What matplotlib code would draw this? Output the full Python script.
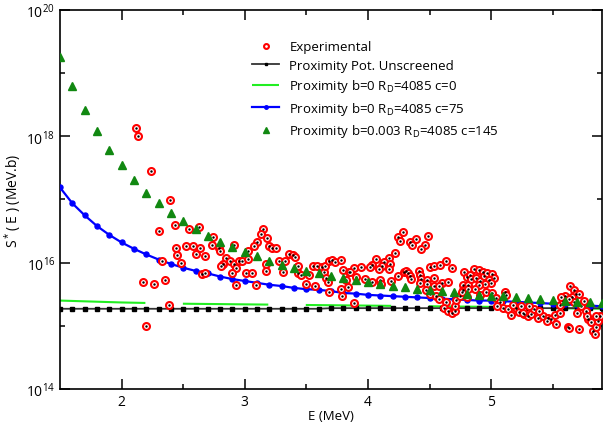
import numpy as np
import matplotlib.pyplot as plt

plt.rcParams['font.family'] = ['Open Sans', 'DejaVu Sans']
plt.rcParams['mathtext.default'] = 'regular'

# model energies (MeV)
E_model = [1.5, 1.6, 1.7, 1.8, 1.9, 2.0, 2.1, 2.2, 2.3, 2.4, 2.5, 2.6, 2.7, 2.8, 2.9,
           3.0, 3.1, 3.2, 3.3, 3.4, 3.5, 3.6, 3.7, 3.8, 3.9, 4.0, 4.1, 4.2, 4.3, 4.4,
           4.5, 4.6, 4.7, 4.8, 4.9, 5.0, 5.1, 5.2, 5.3, 5.4, 5.5, 5.6, 5.7, 5.8, 5.9]

# log10 S*(E)
log_unscreened = [15.27, 15.27, 15.27, 15.27, 15.27, 15.27, 15.27, 15.27, 15.27, 15.27,
                  15.27, 15.27, 15.27, 15.27, 15.27, 15.27, 15.27, 15.27, 15.27, 15.27,
                  15.27, 15.27, 15.28, 15.28, 15.28, 15.28, 15.28, 15.28, 15.28, 15.28,
                  15.28, 15.28, 15.28, 15.28, 15.28, 15.28, 15.28, 15.28, 15.28, 15.28,
                  15.28, 15.28, 15.28, 15.28, 15.28]
log_c75 = [17.19, 16.94, 16.75, 16.58, 16.44, 16.32, 16.22, 16.13, 16.05, 15.98,
           15.92, 15.87, 15.83, 15.78, 15.74, 15.71, 15.68, 15.65, 15.63, 15.60,
           15.58, 15.57, 15.55, 15.52, 15.51, 15.49, 15.48, 15.47, 15.46, 15.45,
           15.44, 15.43, 15.42, 15.41, 15.40, 15.40, 15.39, 15.38, 15.37, 15.36,
           15.35, 15.34, 15.33, 15.32, 15.31]
log_c145 = [19.26, 18.80, 18.42, 18.08, 17.79, 17.54, 17.31, 17.11, 16.94, 16.79,
            16.66, 16.53, 16.43, 16.33, 16.25, 16.17, 16.10, 16.03, 15.97, 15.92,
            15.87, 15.83, 15.79, 15.75, 15.73, 15.69, 15.67, 15.63, 15.61, 15.59,
            15.57, 15.55, 15.53, 15.51, 15.49, 15.48, 15.47, 15.45, 15.44, 15.42,
            15.41, 15.40, 15.38, 15.37, 15.36]

E_c0 = [1.5, 2.0, 2.5, 3.0, 3.5, 4.0, 4.5, 5.0, 5.5, 5.9]
log_c0 = [15.40, 15.37, 15.35, 15.34, 15.33, 15.32, 15.31, 15.30, 15.28, 15.27]

# experimental points
exp_E = [2.119, 2.130, 2.235, 2.39, 2.435, 2.30, 2.549, 2.625, 2.743, 2.44, 2.45, 2.52,
         2.58, 2.605, 2.64, 2.68, 2.73, 2.787, 2.80, 2.85, 2.82, 2.81, 2.48, 2.325,
         2.65, 2.68, 2.17, 2.26, 2.35, 2.386, 2.20,
         3.146, 3.13, 3.18, 3.10, 3.076, 3.20, 3.22, 3.257, 2.914, 3.03, 2.88, 2.91,
         2.95, 2.98, 2.93, 2.895, 3.006, 3.06, 2.93, 3.03, 3.17, 3.176, 3.095, 3.28,
         3.33, 3.31, 3.357, 3.39, 3.41, 3.43, 3.435, 3.46, 3.495, 3.525, 3.555, 3.587,
         3.627, 3.64, 3.655, 3.684, 3.71, 3.73, 3.78, 3.663, 3.676, 3.57, 3.68, 3.80,
         3.846, 3.82, 3.835,
         4.287, 4.247, 4.26, 4.387, 4.344, 4.36, 4.487, 4.463, 4.433, 4.217, 4.17,
         4.063, 4.127, 4.18, 4.11, 4.09, 4.168, 4.036, 4.02, 3.89, 3.94, 3.855, 3.90,
         3.98, 4.03, 4.095, 4.106, 4.19, 4.247, 4.29, 4.31, 4.325, 4.34, 4.35, 4.414,
         4.42, 4.43, 4.42, 4.48, 4.48, 4.50, 4.535, 4.588, 4.633, 4.685, 4.54, 4.60,
         4.65, 4.533, 4.58, 4.78, 4.80, 4.77, 4.81, 4.473, 4.506, 4.55, 4.576, 4.63,
         4.62, 4.65, 4.68, 4.71, 4.71, 4.717, 4.75, 4.77, 3.89, 3.785, 3.79,
         4.86, 4.90, 4.93, 4.825, 4.84, 4.88, 4.91, 4.94, 4.97, 5.01, 5.02, 4.98, 5.00,
         4.95, 4.90, 4.87, 4.81, 4.766, 4.80, 4.91, 4.96, 5.01, 5.04, 5.07, 5.11, 5.12,
         5.095, 5.135, 5.16, 5.20, 5.23, 5.27, 5.30, 5.325, 5.35, 5.38, 5.42, 5.46,
         5.49, 5.53, 5.515, 5.555, 5.555, 5.58, 5.60, 5.64, 5.675, 5.69, 5.66, 5.675,
         5.70, 5.73, 5.75, 5.77, 5.785, 5.81, 5.825, 5.85, 5.84, 5.865, 5.88, 5.62,
         5.717, 5.45, 5.39, 5.18, 5.05, 5.24, 5.31, 5.717, 5.57, 5.63, 5.63, 5.78,
         5.85, 5.26]
exp_logS = [18.13, 18.00, 17.45, 16.99, 16.59, 16.50, 16.53, 16.56, 16.40, 16.24, 16.12,
            16.27, 16.27, 16.14, 16.23, 16.11, 16.28, 16.23, 16.19, 16.07, 15.98, 15.95,
            15.99, 16.03, 15.82, 15.83, 15.69, 15.66, 15.73, 15.33, 15.00,
            16.54, 16.46, 16.39, 16.33, 16.27, 16.27, 16.24, 16.23, 16.28, 16.19, 16.02,
            15.98, 16.02, 16.02, 15.91, 15.83, 15.83, 15.83, 15.65, 16.06, 15.98, 15.87,
            15.65, 16.02, 16.02, 15.86, 16.13, 16.12, 16.09, 15.95, 15.83, 15.80, 15.66,
            15.80, 15.94, 15.95, 15.93, 15.86, 15.95, 16.02, 16.05, 16.01, 16.04, 15.76,
            15.69, 15.63, 15.54, 15.89, 15.86, 15.73, 15.61,
            16.49, 16.41, 16.34, 16.38, 16.33, 16.28, 16.43, 16.28, 16.22, 16.16, 16.08,
            16.06, 16.01, 15.98, 15.95, 15.90, 15.90, 15.96, 15.93, 15.92, 15.93, 15.85,
            15.77, 15.74, 15.70, 15.73, 15.67, 15.71, 15.79, 15.86, 15.87, 15.83, 15.79,
            15.74, 15.87, 15.80, 15.74, 15.68, 15.73, 15.66, 15.93, 15.94, 15.97, 16.03,
            15.91, 15.76, 15.68, 15.69, 15.63, 15.63, 15.85, 15.78, 15.64, 15.64, 15.57,
            15.50, 15.48, 15.43, 15.37, 15.29, 15.24, 15.21, 15.24, 15.31, 15.41, 15.47,
            15.56, 15.36, 15.59, 15.47,
            15.90, 15.89, 15.86, 15.80, 15.74, 15.75, 15.71, 15.79, 15.83, 15.82, 15.75,
            15.72, 15.68, 15.66, 15.65, 15.58, 15.58, 15.53, 15.45, 15.49, 15.54, 15.52,
            15.44, 15.37, 15.53, 15.49, 15.29, 15.27, 15.17, 15.29, 15.22, 15.19, 15.15,
            15.19, 15.27, 15.12, 15.16, 15.12, 15.11, 15.03, 15.17, 15.21, 15.33, 15.40,
            15.48, 15.63, 15.56, 15.50, 15.45, 15.37, 15.20, 15.32, 15.40, 15.24, 15.11,
            15.06, 14.92, 14.98, 14.87, 15.08, 15.16, 14.98, 14.95, 15.07, 15.24, 15.33,
            15.32, 15.32, 15.32, 15.50, 15.45, 15.42, 14.96, 15.16, 15.16, 15.21]

S_unscreened = 10 ** np.array(log_unscreened)
S_c75 = 10 ** np.array(log_c75)
S_c145 = 10 ** np.array(log_c145)
S_c0 = 10 ** np.array(log_c0)
S_exp = 10 ** np.array(exp_logS)

fig = plt.figure(figsize=(6.03, 4.27), dpi=100)
ax = fig.add_axes([60/603, 37/427, 542/603, 379/427])

h_c0, = ax.plot(E_c0, S_c0, color='#22ee22', lw=1.5, linestyle=(0, (41, 18)), zorder=2)
h_un, = ax.plot(E_model, S_unscreened, color='#333333', lw=1.3, marker='s', ms=2.6,
                mfc='black', mec='black', zorder=3)
h_c75, = ax.plot(E_model, S_c75, color='#0000ff', lw=1.6, marker='o', ms=3.6,
                 mec='#0000ff', zorder=4)
h_exp, = ax.plot(exp_E, S_exp, linestyle='none', marker='o', ms=5.0, mfc='white',
                 mec='#ff0000', mew=1.5, zorder=5)
ax.plot(exp_E, S_exp, linestyle='none', marker='.', ms=1.5, color='black', zorder=6)
h_c145, = ax.plot(E_model, S_c145, linestyle='none', marker='^', ms=6.2, color='#118811',
                  zorder=7)

ax.set_yscale('log')
ax.set_xlim(1.5, 5.9)
ax.set_ylim(1e14, 1e20)
ax.set_xticks([2, 3, 4, 5])
ax.set_xticks([2.5, 3.5, 4.5, 5.5], minor=True)
ax.set_yticks([1e14, 1e16, 1e18, 1e20])
ax.set_yticks([1e15, 1e17, 1e19], minor=True)
ax.set_yticklabels([], minor=True)
ax.tick_params(which='both', direction='in', top=True, right=True, width=1.1,
               labelsize=10)
ax.tick_params(which='major', length=7)
ax.tick_params(which='minor', length=3.5)
for s in ax.spines.values():
    s.set_linewidth(1.2)

ax.set_xlabel('E (MeV)', fontsize=9.5, labelpad=0)
ax.set_ylabel('S$^*$( E ) (MeV.b)', fontsize=10, labelpad=2)

ax.legend([h_exp, h_un, h_c0, h_c75, h_c145],
          ['Experimental', 'Proximity Pot. Unscreened', 'Proximity b=0 R$_D$=4085 c=0',
           'Proximity b=0 R$_D$=4085 c=75', 'Proximity b=0.003 R$_D$=4085 c=145'],
          loc='upper left', bbox_to_anchor=(0.355, 0.92), frameon=False, fontsize=9.5,
          handlelength=2.0, handletextpad=0.8, labelspacing=0.42, borderpad=0,
          borderaxespad=0, markerscale=0.7)

plt.savefig('out.png')
